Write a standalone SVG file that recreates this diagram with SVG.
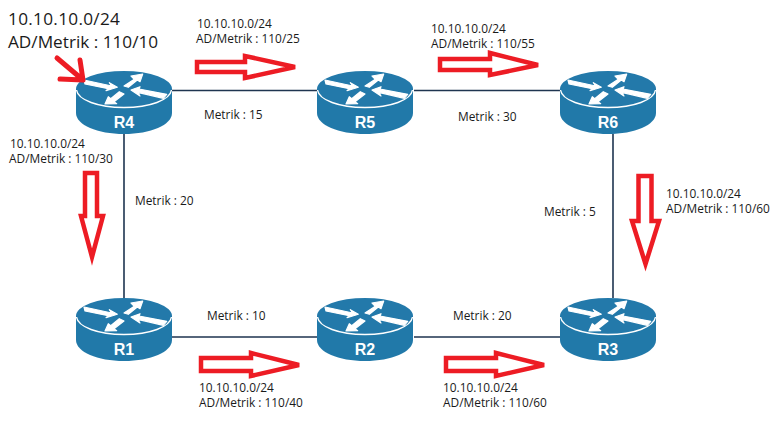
<svg xmlns="http://www.w3.org/2000/svg" width="784" height="432" viewBox="0 0 784 432">
<style>
text{font-family:"Open Sans","DejaVu Sans",sans-serif;fill:#1a1a1a}
.s{font-size:11.9px}
.b{font-size:17.2px}
.n{font-family:"Liberation Sans",Arial,sans-serif;font-size:16px;font-weight:700;fill:#fff;text-anchor:middle}
.c{stroke:#1f3550;stroke-width:1.6;fill:none}
.r{fill:#fff;stroke:#ed1c24;stroke-width:4.5;stroke-linejoin:miter}
.h{fill:none;stroke:#ed1c24;stroke-width:5;stroke-linecap:round;stroke-linejoin:round}
</style>
<defs>
<g id="router">
<path d="M0 18V42C0 54 21.500 63 48 63S96 54 96 42V18Z" fill="#2179a9"/>
<ellipse cx="48" cy="18" rx="48" ry="18" fill="#2379aa"/>
<path d="M0.500 19C2 29 22 36.500 48 36.500S94 29 95.500 19" fill="none" stroke="#fff" stroke-width="1.400"/>
<g fill="#fff" stroke="#fff" stroke-width="1.200" stroke-linejoin="round">
<path d="M8 9L35.700 15L33.300 11.700L41.300 16.300L30 19.700L32.300 17.700L9 13Z"/>
<path d="M48 15L58.300 8.300L55 5L66.700 3L64 10.700L61.300 9L52.300 16.300Z"/>
<path d="M55 19L64 15.700L63 18L90.700 23.300L87.300 27.300L61.700 21.300L64 25Z"/>
<path d="M29 33L32.300 25.700L34.700 27.700L43.300 20.700L48 23L38 30.700L40.700 32.700Z"/>
</g>
</g>
</defs>
<rect width="784" height="432" fill="#fff"/>
<g id="connectors">
<path class="c" d="M172 90.500H318M414 90.500H561M124 134V298M613 134V298M172 337H318M414 337H561"/>
</g>
<g id="R4"><use href="#router" x="76" y="71"/><text class="n" x="124" y="128">R4</text></g>
<g id="R5"><use href="#router" x="317" y="71"/><text class="n" x="365" y="128">R5</text></g>
<g id="R6"><use href="#router" x="560" y="71"/><text class="n" x="608" y="128">R6</text></g>
<g id="R1"><use href="#router" x="76" y="298"/><text class="n" x="124" y="355">R1</text></g>
<g id="R2"><use href="#router" x="317" y="298"/><text class="n" x="365" y="355">R2</text></g>
<g id="R3"><use href="#router" x="560" y="298"/><text class="n" x="608" y="355">R3</text></g>
<g id="metrics">
<text class="s" x="204" y="119">Metrik : 15</text>
<text class="s" x="458" y="121">Metrik : 30</text>
<text class="s" x="135" y="205">Metrik : 20</text>
<text class="s" x="544" y="216">Metrik : 5</text>
<text class="s" x="207" y="320">Metrik : 10</text>
<text class="s" x="453" y="320">Metrik : 20</text>
</g>
<g id="routes">
<text class="b" x="8" y="25" letter-spacing="0.300">10.10.10.0/24</text>
<text class="b" x="8" y="48">AD/Metrik : 110/10</text>
<text class="s" x="197" y="28">10.10.10.0/24</text>
<text class="s" x="196" y="43">AD/Metrik : 110/25</text>
<text class="s" x="431" y="33">10.10.10.0/24</text>
<text class="s" x="431" y="48">AD/Metrik : 110/55</text>
<text class="s" x="10" y="148">10.10.10.0/24</text>
<text class="s" x="9" y="163">AD/Metrik : 110/30</text>
<text class="s" x="666" y="198">10.10.10.0/24</text>
<text class="s" x="666" y="213">AD/Metrik : 110/60</text>
<text class="s" x="199" y="392">10.10.10.0/24</text>
<text class="s" x="199" y="407">AD/Metrik : 110/40</text>
<text class="s" x="443" y="392">10.10.10.0/24</text>
<text class="s" x="443" y="407">AD/Metrik : 110/60</text>
</g>
<g id="arrows">
<path class="h" d="M57 58L83 80M80 60L83 80L60 79"/>
<path class="r" d="M197 62H245V56L295 67L245 78V72H197Z"/>
<path class="r" d="M440 59H490V53L538 65L490 75V70H440Z"/>
<path class="r" d="M201 358H251V353L299 365L251 376V371H201Z"/>
<path class="r" d="M446 358H496V353L544 365L496 376V371H446Z"/>
<path class="r" d="M85 173H97V216H103L92 257L81 216H85Z"/>
<path class="r" d="M638.500 176H651.500V221H659L645.500 264L632 221H638.500Z"/>
</g>
</svg>
